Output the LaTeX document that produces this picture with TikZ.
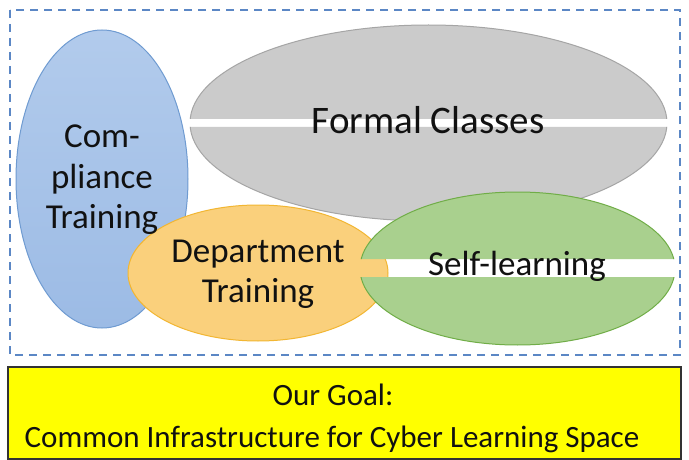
\documentclass[tikz,border=0pt]{standalone}
\usepackage{fontspec}
\setmainfont{Carlito}
\usetikzlibrary{shapes.geometric}
\definecolor{dashblue}{HTML}{5B87C5}
\definecolor{compfillA}{HTML}{B2CBEC}
\definecolor{compfillB}{HTML}{9CBBE5}
\definecolor{compedge}{HTML}{6F9BD1}
\definecolor{formfill}{HTML}{CBCBCB}
\definecolor{formedge}{HTML}{A5A5A5}
\definecolor{deptfill}{HTML}{FAD07C}
\definecolor{deptedge}{HTML}{F2B632}
\definecolor{selffill}{HTML}{A9D08E}
\definecolor{selfedge}{HTML}{70AD47}
\definecolor{goalfill}{HTML}{FFFF00}
\definecolor{txt}{HTML}{111111}
\begin{document}
\begin{tikzpicture}[x=1pt,y=-1pt,
  lbl/.style={anchor=base, text=txt, inner sep=0pt},
  big/.style={font=\fontsize{39}{46}\selectfont},
  mid/.style={font=\fontsize{35}{40}\selectfont},
  goal/.style={font=\fontsize{31}{36}\selectfont}]
\useasboundingbox (0,0) rectangle (689,460);
\fill[white] (0,0) rectangle (689,460);
% dashed frame
\draw[dashblue, line width=1.6pt, dash pattern=on 8pt off 6pt] (10,10) rectangle (680,355);
% compliance
\node[ellipse, inner sep=0pt, minimum width=172pt, minimum height=298pt,
  top color=compfillA, bottom color=compfillB, draw=compedge, line width=1pt] (comp) at (102,179) {};
% formal classes (with white stripe)
\begin{scope}
  \clip (150,0) rectangle (689,119) (150,127) rectangle (689,240);
  \filldraw[fill=formfill, draw=formedge, line width=1pt] (428.5,123) ellipse [x radius=238.5, y radius=98];
\end{scope}
\coordinate (formc) at (428.5,123);
% department
\node[ellipse, inner sep=0pt, minimum width=260pt, minimum height=136pt,
  fill=deptfill, draw=deptedge, line width=1pt] (dept) at (258,273) {};
% self-learning (with transparent stripe)
\begin{scope}
  \clip (340,150) rectangle (689,259) (340,277) rectangle (689,360);
  \filldraw[fill=selffill, draw=selfedge, line width=1pt] (517.5,268.5) ellipse [x radius=157.5, y radius=76.5];
\end{scope}
% labels
\node[lbl, mid] (c1) at (102,147) {Com-};
\node[lbl, mid] (c2) at (102,188) {pliance};
\node[lbl, mid] (c3) at (102,228) {Training};
\node[lbl, big] (f1) at (428,133) {Formal Classes};
\node[lbl, mid] (d1) at (258,262) {Department};
\node[lbl, mid] (d2) at (258,302) {Training};
\node[lbl, mid] (s1) at (517,275) {Self-learning};
% goal box
\draw[fill=goalfill, draw=black!80, line width=1.2pt] (8,367) rectangle (681,459);
\node[lbl, goal] (g1) at (333,405) {Our Goal:};
\node[lbl, goal] (g2) at (332,447) {Common\ Infrastructure for Cyber Learning Space};
\end{tikzpicture}
\end{document}
